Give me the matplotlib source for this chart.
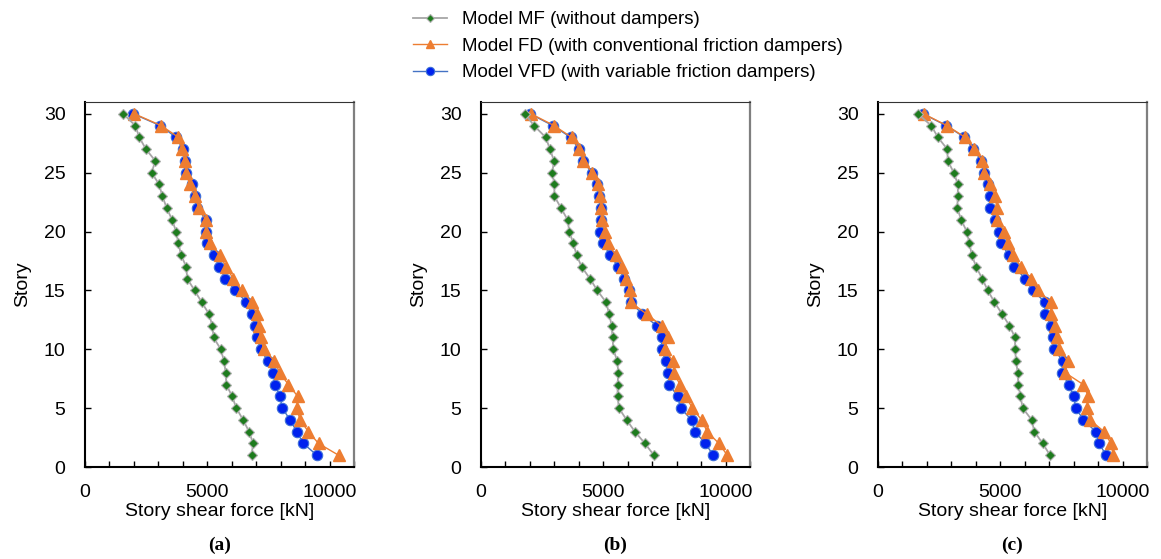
import matplotlib.pyplot as plt
from matplotlib.ticker import MultipleLocator

plt.rcParams['font.family'] = ['Liberation Sans', 'DejaVu Sans']

stories = list(range(30, 0, -1))

# (a)
mf_a = [1560, 2055, 2220, 2490, 2875, 2725, 3030, 3165, 3340, 3560,
        3725, 3820, 3930, 4140, 4180, 4480, 4770, 5070, 5205, 5260,
        5550, 5685, 5755, 5780, 6015, 6190, 6465, 6710, 6875, 6810]
fd_a = [2015, 3110, 3820, 3970, 4070, 4140, 4275, 4480, 4660, 4930,
        4930, 5095, 5505, 5780, 6055, 6400, 6810, 7015, 7110, 7180,
        7315, 7740, 7970, 8315, 8700, 8660, 8795, 9135, 9550, 10370]
vfd_a = [1970, 3070, 3725, 4000, 4070, 4110, 4385, 4480, 4575, 4960,
         4960, 5000, 5275, 5480, 5740, 6150, 6600, 6810, 6945, 7015,
         7190, 7465, 7700, 7770, 7970, 8070, 8385, 8660, 8930, 9480]

# (b)
mf_b = [1800, 2165, 2645, 2820, 2985, 2915, 3000, 3000, 3270, 3540,
        3610, 3775, 3910, 4115, 4455, 4755, 5110, 5245, 5340, 5380,
        5410, 5570, 5615, 5585, 5585, 5640, 5955, 6295, 6705, 7070]
fd_b = [2045, 2985, 3705, 4020, 4180, 4550, 4770, 4865, 4905, 4930,
        5070, 5175, 5505, 5750, 5915, 6090, 6115, 6770, 7385, 7630,
        7520, 7835, 7890, 8135, 8380, 8640, 9020, 9250, 9730, 10070]
vfd_b = [2005, 2930, 3665, 4005, 4180, 4525, 4755, 4825, 4890, 4905,
         4865, 5000, 5270, 5615, 5845, 6050, 6115, 6595, 7180, 7385,
         7385, 7545, 7655, 7700, 8040, 8160, 8610, 8745, 9180, 9495]

# (c)
mf_c = [1630, 2175, 2450, 2830, 2855, 3100, 3265, 3265, 3240, 3400,
        3630, 3740, 3835, 4015, 4260, 4490, 4760, 5075, 5375, 5605,
        5605, 5645, 5715, 5740, 5825, 5920, 6285, 6395, 6735, 7035]
fd_c = [1865, 2815, 3565, 3945, 4260, 4355, 4560, 4800, 4855, 4855,
        5170, 5305, 5510, 5850, 6260, 6530, 7075, 7075, 7250, 7305,
        7415, 7755, 7660, 8395, 8600, 8545, 8665, 9250, 9525, 9620]
vfd_c = [1835, 2790, 3535, 3905, 4220, 4355, 4490, 4560, 4560, 4800,
         4965, 5035, 5345, 5580, 6015, 6325, 6830, 6830, 7075, 7145,
         7210, 7550, 7525, 7795, 8000, 8095, 8395, 8910, 9050, 9320]

panels = [("(a)", mf_a, fd_a, vfd_a),
          ("(b)", mf_b, fd_b, vfd_b),
          ("(c)", mf_c, fd_c, vfd_c)]

W, H = 1161, 559
fig = plt.figure(figsize=(W / 100, H / 100), dpi=100)

lefts = [85, 481, 878]
axw = 269
top, bottom = 102, 467

for (tag, mf, fd, vfd), left in zip(panels, lefts):
    ax = fig.add_axes([left / W, 1 - bottom / H, axw / W, (bottom - top) / H])
    h3, = ax.plot(vfd, stories, color="#4472C4", lw=1.0, marker="o", ms=7.5,
                  mfc="#0022EE", mec="#3D6FD8", mew=0.8, zorder=2)
    h2, = ax.plot(fd, stories, color="#ED7D31", lw=1.0, marker="^", ms=8,
                  mfc="#ED7D31", mec="#ED7D31", zorder=3)
    h1, = ax.plot(mf, stories, color="#A6A6A6", lw=1.3, marker="D", ms=5,
                  mfc="#1E7B1E", mec="#B0B0B0", mew=0.8, zorder=4)
    ax.set_xlim(0, 11000)
    ax.set_ylim(0, 31)
    ax.xaxis.set_major_locator(MultipleLocator(5000))
    ax.xaxis.set_minor_locator(MultipleLocator(1000))
    ax.yaxis.set_major_locator(MultipleLocator(5))
    ax.tick_params(direction="in", length=4, width=1, labelsize=14, color="black")
    ax.tick_params(axis="y", pad=14, right=False)
    ax.tick_params(axis="x", pad=12, top=False)
    ax.tick_params(which="minor", direction="in", length=4, width=1)
    ax.spines["left"].set_color("black")
    ax.spines["bottom"].set_color("black")
    ax.spines["left"].set_linewidth(1.5)
    ax.spines["bottom"].set_linewidth(1.5)
    ax.spines["top"].set_color("#333333")
    ax.spines["right"].set_color("#7F7F7F")
    ax.spines["right"].set_linewidth(1.6)
    ax.set_xlabel("Story shear force [kN]", fontsize=14, labelpad=2)
    ax.set_ylabel("Story", fontsize=14, labelpad=9)
    ax.text(0.5, -0.215, tag, transform=ax.transAxes, ha="center", va="center",
            fontsize=14, fontweight="bold", family="Liberation Serif")

fig.legend([h1, h2, h3],
           ["Model MF (without dampers)",
            "Model FD (with conventional friction dampers)",
            "Model VFD (with variable friction dampers)"],
           loc="upper left", bbox_to_anchor=(413 / W, 1 - 11 / H),
           frameon=False, fontsize=13.5, handlelength=1.8, handletextpad=0.8,
           labelspacing=0.5, borderpad=0, borderaxespad=0, markerscale=0.8)

fig.savefig("out.png", dpi=100)
